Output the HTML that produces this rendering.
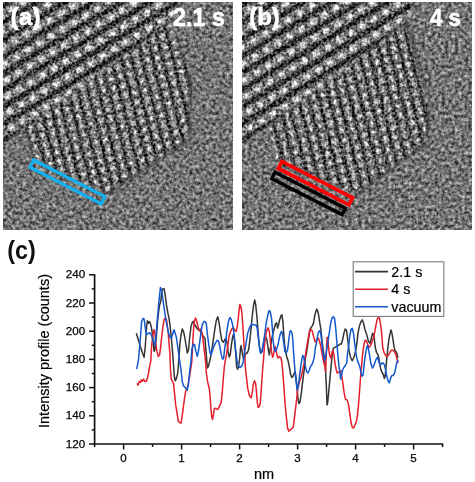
<!DOCTYPE html>
<html><head><meta charset="utf-8"><style>
html,body{margin:0;padding:0;background:#fff;width:475px;height:482px;overflow:hidden;}
.tem{position:absolute;display:block;will-change:transform}
.ov{position:absolute;left:0;top:0;will-change:transform}
text{font-family:"Liberation Sans",sans-serif}
.tl{font-size:11.6px;fill:#000;stroke:#000;stroke-width:0.25px}
.at{font-size:14.5px;fill:#000;stroke:#000;stroke-width:0.2px}
.lg{font-size:14.3px;fill:#000;stroke:#000;stroke-width:0.2px}
.pl{font-size:24px;font-weight:bold;fill:#111}
.wl{font-size:23px;font-weight:bold;fill:#fff;stroke:#fff;stroke-width:0.5px}
</style></head><body>
<svg class="tem" style="left:3px;top:2px" width="230" height="228" viewBox="0 0 230 228">
<defs>
<filter id="fa" x="0" y="0" width="230" height="228" filterUnits="userSpaceOnUse" color-interpolation-filters="sRGB">
<feTurbulence type="fractalNoise" baseFrequency="0.3" numOctaves="3" seed="7" result="t"/>
<feColorMatrix in="t" type="matrix" values="1 0 0 0 0  1 0 0 0 0  1 0 0 0 0  0 0 0 0 1" result="g"/>
<feComposite in="SourceGraphic" in2="g" operator="arithmetic" k1="0" k2="1" k3="0.98" k4="-0.49" result="c"/>
<feGaussianBlur in="c" stdDeviation="0.6"/>
</filter>
<filter id="fca" x="0" y="0" width="230" height="228" filterUnits="userSpaceOnUse" color-interpolation-filters="sRGB">
<feTurbulence type="fractalNoise" baseFrequency="0.38" numOctaves="2" seed="57" result="t"/>
<feColorMatrix in="t" type="matrix" values="1 0 0 0 0  1 0 0 0 0  1 0 0 0 0  0 0 0 0 1" result="g"/>
<feComposite in="SourceGraphic" in2="g" operator="arithmetic" k1="0" k2="1" k3="1.2" k4="-0.6" result="c"/>
<feGaussianBlur in="c" stdDeviation="0.6"/>
</filter>
<radialGradient id="rga"><stop offset="0" stop-color="#fff" stop-opacity="0.85"/><stop offset="0.45" stop-color="#fff" stop-opacity="0.47"/><stop offset="1" stop-color="#fff" stop-opacity="0"/></radialGradient>
<pattern id="dotsa" width="10.0" height="9.6" patternUnits="userSpaceOnUse" patternTransform="rotate(-14)"><rect x="0" y="0" width="2.50" height="9.6" fill="#000" opacity="0.5"/><ellipse cx="6.25" cy="4.8" rx="3.2" ry="4.4" fill="url(#rga)"/></pattern>
<pattern id="stra" width="13.5" height="29.0" patternUnits="userSpaceOnUse" patternTransform="rotate(-31) translate(0,5.6)"><rect y="9.86" width="13.5" height="4.64" fill="#000" opacity="0.6"/><rect y="24.36" width="13.5" height="4.64" fill="#000" opacity="0.6"/><ellipse cx="3.375" cy="4.93" rx="5.46" ry="4.2" fill="url(#rgsa)"/><ellipse cx="10.125" cy="19.43" rx="5.46" ry="4.2" fill="url(#rgsa)"/></pattern>
<radialGradient id="rgsa"><stop offset="0" stop-color="#fff" stop-opacity="1.0"/><stop offset="0.5" stop-color="#fff" stop-opacity="0.60"/><stop offset="1" stop-color="#fff" stop-opacity="0"/></radialGradient>
<filter id="tba" x="-10%" y="-10%" width="120%" height="120%"><feGaussianBlur stdDeviation="0.35"/></filter>
<filter id="mba" x="-20%" y="-20%" width="140%" height="140%"><feGaussianBlur stdDeviation="1.5"/></filter>
<mask id="cca" maskUnits="userSpaceOnUse" x="0" y="0" width="230" height="228"><polygon points="168,20 187,72 186.5,137 104,192 30,157 22,126" fill="#fff" filter="url(#mba)"/></mask>
<mask id="csa" maskUnits="userSpaceOnUse" x="0" y="0" width="230" height="228"><polygon points="-10,-10 178,-10 176,0 170,18.5 0,142 -10,149" fill="#fff" filter="url(#mba)"/></mask>
</defs>
<g filter="url(#fa)"><rect width="230" height="228" fill="#747474"/></g>
<g mask="url(#csa)"><g filter="url(#fca)"><rect width="230" height="228" fill="#6e6e6e"/><rect width="230" height="228" fill="url(#stra)"/></g></g>
<g mask="url(#cca)"><g filter="url(#fca)"><rect width="230" height="228" fill="#646464"/><rect width="230" height="228" fill="url(#dotsa)"/></g></g>
<polyline points="187,72 186.5,137 104,192" fill="none" stroke="#1a1a1a" stroke-width="4" stroke-opacity="0.3" stroke-linejoin="round"/>
<rect x="-40.00" y="-4.10" width="80.00" height="8.20" fill="none" stroke="#12b0ee" stroke-width="3.2" transform="translate(64.46,179.95) rotate(27.2)"/>
<text x="7.6" y="23.4" class="wl" filter="url(#tba)" style="font-size:24.6px" textLength="30.0" lengthAdjust="spacingAndGlyphs">(a)</text>
<text x="170.0" y="24.3" class="wl" filter="url(#tba)" style="font-size:25.2px" textLength="51.9" lengthAdjust="spacingAndGlyphs">2.1 s</text>
</svg>
<svg class="tem" style="left:242px;top:2px" width="230" height="228" viewBox="0 0 230 228">
<defs>
<filter id="fb" x="0" y="0" width="230" height="228" filterUnits="userSpaceOnUse" color-interpolation-filters="sRGB">
<feTurbulence type="fractalNoise" baseFrequency="0.3" numOctaves="3" seed="11" result="t"/>
<feColorMatrix in="t" type="matrix" values="1 0 0 0 0  1 0 0 0 0  1 0 0 0 0  0 0 0 0 1" result="g"/>
<feComposite in="SourceGraphic" in2="g" operator="arithmetic" k1="0" k2="1" k3="0.98" k4="-0.49" result="c"/>
<feGaussianBlur in="c" stdDeviation="0.6"/>
</filter>
<filter id="fcb" x="0" y="0" width="230" height="228" filterUnits="userSpaceOnUse" color-interpolation-filters="sRGB">
<feTurbulence type="fractalNoise" baseFrequency="0.38" numOctaves="2" seed="61" result="t"/>
<feColorMatrix in="t" type="matrix" values="1 0 0 0 0  1 0 0 0 0  1 0 0 0 0  0 0 0 0 1" result="g"/>
<feComposite in="SourceGraphic" in2="g" operator="arithmetic" k1="0" k2="1" k3="1.2" k4="-0.6" result="c"/>
<feGaussianBlur in="c" stdDeviation="0.6"/>
</filter>
<radialGradient id="rgb"><stop offset="0" stop-color="#fff" stop-opacity="0.85"/><stop offset="0.45" stop-color="#fff" stop-opacity="0.47"/><stop offset="1" stop-color="#fff" stop-opacity="0"/></radialGradient>
<pattern id="dotsb" width="10.0" height="9.6" patternUnits="userSpaceOnUse" patternTransform="rotate(-14)"><rect x="0" y="0" width="2.50" height="9.6" fill="#000" opacity="0.5"/><ellipse cx="6.25" cy="4.8" rx="3.2" ry="4.4" fill="url(#rgb)"/></pattern>
<pattern id="strb" width="13.5" height="29.0" patternUnits="userSpaceOnUse" patternTransform="rotate(-31) translate(0,5.2)"><rect y="9.86" width="13.5" height="4.64" fill="#000" opacity="0.6"/><rect y="24.36" width="13.5" height="4.64" fill="#000" opacity="0.6"/><ellipse cx="3.375" cy="4.93" rx="5.46" ry="4.2" fill="url(#rgsb)"/><ellipse cx="10.125" cy="19.43" rx="5.46" ry="4.2" fill="url(#rgsb)"/></pattern>
<radialGradient id="rgsb"><stop offset="0" stop-color="#fff" stop-opacity="1.0"/><stop offset="0.5" stop-color="#fff" stop-opacity="0.60"/><stop offset="1" stop-color="#fff" stop-opacity="0"/></radialGradient>
<filter id="tbb" x="-10%" y="-10%" width="120%" height="120%"><feGaussianBlur stdDeviation="0.35"/></filter>
<filter id="mbb" x="-20%" y="-20%" width="140%" height="140%"><feGaussianBlur stdDeviation="1.5"/></filter>
<mask id="ccb" maskUnits="userSpaceOnUse" x="0" y="0" width="230" height="228"><polygon points="163,22 187,100 185,140 116,192 34,162 26,125" fill="#fff" filter="url(#mbb)"/></mask>
<mask id="csb" maskUnits="userSpaceOnUse" x="0" y="0" width="230" height="228"><polygon points="-10,-10 174,-10 172,0 166,20 0,143 -10,150" fill="#fff" filter="url(#mbb)"/></mask>
</defs>
<g filter="url(#fb)"><rect width="230" height="228" fill="#747474"/></g>
<g mask="url(#csb)"><g filter="url(#fcb)"><rect width="230" height="228" fill="#6e6e6e"/><rect width="230" height="228" fill="url(#strb)"/></g></g>
<g mask="url(#ccb)"><g filter="url(#fcb)"><rect width="230" height="228" fill="#646464"/><rect width="230" height="228" fill="url(#dotsb)"/></g></g>
<polyline points="165,20 187,100 185,140 116,192" fill="none" stroke="#1a1a1a" stroke-width="4" stroke-opacity="0.3" stroke-linejoin="round"/>
<rect x="-39.80" y="-3.95" width="79.60" height="7.90" fill="none" stroke="#ff0000" stroke-width="3.6" transform="translate(73.40,181.10) rotate(27.3)"/><rect x="-39.50" y="-3.60" width="79.00" height="7.20" fill="none" stroke="#000" stroke-width="3.4" transform="translate(66.60,191.45) rotate(27.0)"/>
<text x="7.2" y="22.9" class="wl" filter="url(#tbb)" style="font-size:24.6px" textLength="30.6" lengthAdjust="spacingAndGlyphs">(b)</text>
<text x="188.0" y="24.2" class="wl" filter="url(#tbb)" style="font-size:23.4px" textLength="30.8" lengthAdjust="spacingAndGlyphs">4 s</text>
</svg>
<svg class="ov" width="475" height="482" viewBox="0 0 475 482">
<line x1="94.6" y1="444.0" x2="443.2" y2="444.0" stroke="#111" stroke-width="1.7"/>
<line x1="94.6" y1="274.2" x2="94.6" y2="444.0" stroke="#111" stroke-width="1.7"/>
<line x1="123.6" y1="444.0" x2="123.6" y2="449.5" stroke="#111" stroke-width="1.5"/>
<text x="123.6" y="462.3" class="tl" text-anchor="middle">0</text>
<line x1="181.6" y1="444.0" x2="181.6" y2="449.5" stroke="#111" stroke-width="1.5"/>
<text x="181.6" y="462.3" class="tl" text-anchor="middle">1</text>
<line x1="239.6" y1="444.0" x2="239.6" y2="449.5" stroke="#111" stroke-width="1.5"/>
<text x="239.6" y="462.3" class="tl" text-anchor="middle">2</text>
<line x1="297.6" y1="444.0" x2="297.6" y2="449.5" stroke="#111" stroke-width="1.5"/>
<text x="297.6" y="462.3" class="tl" text-anchor="middle">3</text>
<line x1="355.6" y1="444.0" x2="355.6" y2="449.5" stroke="#111" stroke-width="1.5"/>
<text x="355.6" y="462.3" class="tl" text-anchor="middle">4</text>
<line x1="413.6" y1="444.0" x2="413.6" y2="449.5" stroke="#111" stroke-width="1.5"/>
<text x="413.6" y="462.3" class="tl" text-anchor="middle">5</text>
<line x1="94.6" y1="444.0" x2="94.6" y2="447.0" stroke="#111" stroke-width="1.5"/>
<line x1="152.6" y1="444.0" x2="152.6" y2="447.0" stroke="#111" stroke-width="1.5"/>
<line x1="210.6" y1="444.0" x2="210.6" y2="447.0" stroke="#111" stroke-width="1.5"/>
<line x1="268.6" y1="444.0" x2="268.6" y2="447.0" stroke="#111" stroke-width="1.5"/>
<line x1="326.6" y1="444.0" x2="326.6" y2="447.0" stroke="#111" stroke-width="1.5"/>
<line x1="384.6" y1="444.0" x2="384.6" y2="447.0" stroke="#111" stroke-width="1.5"/>
<line x1="442.6" y1="444.0" x2="442.6" y2="447.0" stroke="#111" stroke-width="1.5"/>
<line x1="89.0" y1="444.0" x2="94.6" y2="444.0" stroke="#111" stroke-width="1.5"/>
<text x="85.2" y="447.6" class="tl" text-anchor="end">120</text>
<line x1="89.0" y1="415.8" x2="94.6" y2="415.8" stroke="#111" stroke-width="1.5"/>
<text x="85.2" y="419.4" class="tl" text-anchor="end">140</text>
<line x1="89.0" y1="387.6" x2="94.6" y2="387.6" stroke="#111" stroke-width="1.5"/>
<text x="85.2" y="391.2" class="tl" text-anchor="end">160</text>
<line x1="89.0" y1="359.4" x2="94.6" y2="359.4" stroke="#111" stroke-width="1.5"/>
<text x="85.2" y="363.0" class="tl" text-anchor="end">180</text>
<line x1="89.0" y1="331.2" x2="94.6" y2="331.2" stroke="#111" stroke-width="1.5"/>
<text x="85.2" y="334.8" class="tl" text-anchor="end">200</text>
<line x1="89.0" y1="303.0" x2="94.6" y2="303.0" stroke="#111" stroke-width="1.5"/>
<text x="85.2" y="306.6" class="tl" text-anchor="end">220</text>
<line x1="89.0" y1="274.8" x2="94.6" y2="274.8" stroke="#111" stroke-width="1.5"/>
<text x="85.2" y="278.4" class="tl" text-anchor="end">240</text>
<line x1="91.8" y1="429.9" x2="94.6" y2="429.9" stroke="#111" stroke-width="1.5"/>
<line x1="91.8" y1="401.7" x2="94.6" y2="401.7" stroke="#111" stroke-width="1.5"/>
<line x1="91.8" y1="373.5" x2="94.6" y2="373.5" stroke="#111" stroke-width="1.5"/>
<line x1="91.8" y1="345.3" x2="94.6" y2="345.3" stroke="#111" stroke-width="1.5"/>
<line x1="91.8" y1="317.1" x2="94.6" y2="317.1" stroke="#111" stroke-width="1.5"/>
<line x1="91.8" y1="288.9" x2="94.6" y2="288.9" stroke="#111" stroke-width="1.5"/>
<text x="264" y="479" class="at" text-anchor="middle">nm</text>
<text transform="translate(48.9,351) rotate(-90)" class="at" text-anchor="middle">Intensity profile (counts)</text>
<polyline points="136.3,333.2 138.3,339.8 140.3,346.4 142.5,353.1 144.1,357.2 145.3,346.4 146.6,326.5 147.4,320.7 148.3,323.2 149.6,321.5 150.8,324.9 151.9,329.8 153.3,343.1 154.1,351.4 154.9,349.8 156.2,338.1 157.4,323.2 158.6,311.6 159.6,304.9 160.7,301.6 161.6,293.3 162.4,289.1 164.1,288.6 165.2,295.0 166.5,304.9 167.9,313.2 169.0,318.2 170.2,326.5 171.5,339.8 172.5,351.4 173.5,365.0 174.3,376.0 175.2,380.8 176.2,379.0 177.7,373.3 178.8,360.0 179.8,345.0 181.0,334.8 182.3,329.0 183.5,331.5 184.6,336.5 186.0,344.8 187.3,353.1 188.5,349.8 189.6,338.1 191.0,326.5 192.3,322.4 193.4,321.2 194.3,324.0 196.8,328.2 198.4,329.8 200.1,330.7 201.7,333.2 203.4,336.5 205.0,338.3 205.7,347.7 206.6,358.5 207.4,367.9 208.4,366.5 209.7,361.1 211.1,354.4 212.4,346.3 213.7,336.9 215.1,327.5 216.4,320.1 217.8,316.7 219.1,322.8 220.5,332.9 221.8,340.3 223.2,342.3 224.5,340.3 225.9,338.3 227.2,343.6 228.1,351.7 229.2,357.1 230.3,354.4 231.2,346.3 232.6,336.9 233.5,334.2 234.6,341.0 235.7,353.1 236.6,366.5 237.6,369.2 238.6,366.5 239.7,358.0 240.5,348.0 241.1,345.6 242.3,353.1 243.6,359.7 244.9,355.6 246.1,353.1 247.2,353.1 248.6,349.8 249.9,339.8 251.1,328.2 252.2,316.5 253.6,304.9 254.7,299.9 255.7,304.9 256.9,316.5 258.2,333.2 259.4,346.4 260.5,353.1 261.9,351.4 263.2,344.8 264.4,338.1 265.5,336.5 266.9,339.8 268.2,349.0 269.3,355.0 270.5,347.0 271.7,339.0 273.0,333.2 274.3,328.2 275.5,324.0 276.6,322.9 277.6,328.2 278.6,324.5 279.6,319.9 281.0,315.7 282.0,314.9 283.0,323.2 283.8,334.8 284.6,344.8 285.9,353.1 287.1,358.1 287.9,360.0 289.3,366.6 290.4,373.3 291.6,377.4 292.9,376.6 294.2,373.3 295.1,371.6 295.9,376.6 297.1,388.2 297.9,398.2 298.9,403.5 299.9,402.4 300.9,396.0 301.7,389.8 302.9,379.9 304.2,369.9 305.3,358.6 306.4,353.4 307.4,347.2 308.4,339.9 309.5,332.6 310.5,328.5 311.6,326.9 312.6,325.4 313.4,323.3 314.2,319.1 314.9,315.0 315.8,311.6 316.9,309.1 318.3,313.3 319.6,321.6 320.8,329.0 321.9,339.8 323.2,349.8 324.6,359.7 325.7,373.3 326.5,389.9 327.0,404.9 327.6,403.2 328.6,393.2 329.8,379.9 330.9,368.3 331.9,358.0 332.4,351.4 333.5,348.1 334.9,347.3 336.5,346.4 338.2,345.6 340.0,344.0 341.4,344.0 342.6,339.8 343.9,333.2 345.2,329.0 346.4,329.8 347.2,334.8 348.1,343.1 349.2,351.4 350.5,357.2 352.2,360.8 354.0,357.0 355.5,351.4 356.9,343.1 358.0,333.2 359.3,326.6 361.0,321.6 362.3,319.9 363.5,323.3 365.1,329.9 366.8,334.9 368.5,341.5 370.1,343.2 371.3,338.2 372.6,333.2 373.9,335.7 375.3,347.5 376.5,352.4 378.1,354.9 379.0,358.7 379.9,364.9 380.9,369.9 382.1,372.3 383.4,374.8 384.4,378.6 385.2,376.1 385.9,368.6 386.7,359.0 387.8,348.7 388.8,340.4 389.9,334.1 390.9,330.0 391.9,333.1 393.0,339.3 394.0,346.6 395.0,350.7 396.1,351.8 397.1,353.9 397.8,358.0" fill="none" stroke="#333333" stroke-width="1.5" stroke-linejoin="round"/>
<polyline points="137.0,383.3 138.0,385.2 139.1,381.6 140.3,382.4 141.3,379.9 142.5,381.3 143.6,379.1 144.6,381.3 145.8,381.6 146.6,380.8 147.4,378.3 148.6,372.5 149.6,366.6 150.8,360.8 151.6,346.4 152.9,334.8 154.1,329.8 154.9,333.2 155.7,343.1 156.9,351.4 158.2,356.4 159.6,354.8 160.7,346.4 161.9,334.8 162.9,326.5 164.1,319.9 165.2,317.9 166.5,319.9 167.9,329.8 169.0,343.1 169.9,353.1 170.4,368.3 171.2,379.1 173.5,383.3 174.5,393.2 175.7,404.9 177.3,414.8 178.5,421.5 180.2,422.8 181.0,423.1 181.8,418.1 183.0,409.8 184.3,399.9 185.6,391.6 186.8,389.1 188.0,384.9 189.3,378.3 190.6,370.0 191.8,361.7 192.6,346.4 193.4,331.5 194.3,321.5 195.6,317.9 196.8,321.5 197.9,326.5 199.3,330.7 200.6,329.0 201.7,331.5 202.9,338.1 204.2,349.8 205.0,355.8 205.7,363.8 206.4,373.3 207.6,381.6 209.2,388.2 210.1,396.5 210.9,408.2 211.7,416.5 212.5,419.5 213.4,414.8 214.2,409.0 215.5,408.2 216.7,409.0 217.9,409.5 218.9,407.3 220.0,404.9 221.2,402.4 222.2,393.2 223.3,378.3 224.3,367.0 225.2,361.1 226.5,354.4 227.9,345.0 229.2,335.6 230.6,331.5 231.9,328.8 233.3,327.5 234.6,330.2 236.2,331.5 237.3,326.1 238.6,315.4 239.3,308.2 239.9,304.6 240.9,306.6 241.9,313.2 242.9,326.5 243.9,343.1 244.9,358.1 245.3,366.6 246.6,378.3 247.7,388.2 249.4,395.7 251.1,397.9 252.2,393.2 253.2,384.9 254.4,380.8 255.6,383.3 256.6,393.2 257.4,403.2 258.2,407.3 259.4,406.5 260.2,403.2 261.0,393.2 261.9,379.9 262.7,368.3 263.5,360.0 264.4,346.4 265.5,336.5 266.9,329.8 268.1,327.8 269.3,331.5 270.5,343.1 271.7,353.1 272.7,357.2 273.8,353.1 275.0,346.4 276.0,349.8 277.1,355.6 278.3,358.1 279.6,356.4 281.0,358.1 281.8,362.0 282.6,370.0 283.8,384.9 284.9,401.5 286.3,416.5 287.6,428.1 288.8,431.1 290.4,429.8 292.1,428.4 293.2,427.3 294.2,419.8 295.4,409.8 296.6,399.9 297.6,389.9 298.7,384.9 299.9,380.5 301.2,377.0 302.9,368.6 303.8,365.0 304.8,358.6 305.9,352.3 306.9,346.1 307.9,339.9 309.0,333.7 310.0,329.5 311.0,329.5 312.1,330.6 313.1,334.7 314.2,338.9 315.2,342.0 316.2,340.9 317.3,338.9 318.3,338.1 319.6,341.5 320.8,346.4 321.9,353.1 322.9,358.0 323.9,363.0 324.9,366.3 325.7,371.3 326.6,346.4 327.1,337.3 327.9,338.1 328.5,346.4 329.5,354.7 330.7,358.0 331.9,353.1 332.9,350.6 334.0,354.7 334.9,363.0 336.2,369.7 337.3,373.0 339.0,372.0 340.9,370.8 341.9,376.6 343.1,384.9 344.2,393.2 345.6,399.5 347.2,399.9 348.6,404.9 349.7,413.2 350.9,421.5 352.2,427.3 353.5,428.1 354.7,425.6 356.4,421.5 357.5,414.8 358.5,404.9 359.5,391.6 360.5,378.3 361.5,366.6 362.5,354.9 363.5,347.5 364.5,342.5 365.2,340.2 366.3,340.7 367.6,344.0 369.0,347.3 370.1,346.5 371.3,344.0 372.6,339.9 373.9,336.5 375.1,329.9 376.3,323.3 377.3,319.1 378.4,317.4 379.6,318.3 380.6,324.9 381.7,333.2 382.7,347.5 384.0,352.4 385.6,355.5 387.1,356.8 388.6,354.9 390.2,351.8 391.8,349.9 393.3,350.6 394.8,352.4 396.0,354.9 397.0,358.7 398.0,363.0" fill="none" stroke="#e41e2b" stroke-width="1.5" stroke-linejoin="round"/>
<polyline points="136.6,369.1 138.3,361.7 140.0,343.1 141.6,321.5 143.0,318.5 144.1,319.0 145.3,328.2 146.6,334.8 148.3,333.2 149.9,332.8 151.6,335.6 153.3,341.5 154.9,345.6 156.2,333.2 157.4,318.2 158.6,304.9 159.6,295.0 160.4,287.5 161.6,290.0 163.2,301.6 164.9,313.2 166.5,323.2 168.2,331.5 169.9,337.3 171.5,338.1 172.9,333.2 174.0,329.8 175.2,333.2 176.5,338.0 177.7,346.4 179.3,358.1 181.0,370.0 182.3,381.6 183.5,385.7 185.1,387.4 186.3,389.1 187.3,390.2 188.5,383.3 189.6,371.6 191.0,361.7 191.8,349.8 193.4,344.0 194.6,344.8 195.9,351.4 197.3,356.4 198.4,351.4 199.6,343.1 200.9,333.2 202.2,324.9 203.9,321.5 205.0,321.4 206.3,323.5 207.4,334.2 208.8,345.0 210.1,353.1 211.1,354.4 212.0,351.7 213.3,347.7 215.1,343.6 217.1,340.3 218.5,341.0 219.8,346.3 221.2,354.4 222.5,359.1 223.6,358.5 224.5,350.4 225.9,339.6 227.2,328.8 228.6,320.8 229.9,317.4 231.2,319.4 232.6,324.8 233.9,332.9 234.9,342.3 236.0,353.1 237.3,362.5 238.6,366.5 240.3,367.5 241.9,365.8 243.3,361.7 244.4,353.1 246.1,343.1 247.7,333.2 249.4,328.2 251.1,324.9 252.7,324.5 254.4,324.9 256.1,324.9 257.2,328.2 258.5,339.8 259.9,349.8 261.0,353.1 262.2,351.4 263.5,343.1 264.9,333.2 266.2,323.2 267.7,315.7 269.0,310.7 270.2,311.6 271.5,318.2 272.3,328.0 273.0,339.8 274.3,349.8 275.5,351.4 276.6,348.9 278.0,344.8 279.3,338.1 280.5,333.2 281.6,331.5 282.6,334.8 283.8,343.1 284.9,351.4 286.3,353.1 287.6,349.8 288.8,339.8 289.9,331.5 290.9,330.7 292.1,333.2 292.9,341.5 293.6,352.5 294.5,364.9 295.5,376.1 296.5,384.8 297.3,389.8 298.2,386.1 299.2,378.6 300.5,368.6 301.7,359.9 302.7,355.6 303.6,356.2 304.4,361.2 305.4,366.2 306.7,371.8 307.9,373.0 309.2,370.5 310.4,366.8 311.7,364.9 312.9,362.4 314.2,357.4 315.4,347.5 316.6,342.5 317.8,334.7 318.8,331.6 319.6,330.7 320.8,333.2 321.9,343.1 323.2,354.7 324.6,360.5 325.7,356.4 326.9,348.1 328.2,339.8 329.5,331.5 330.7,323.2 331.9,318.2 333.2,316.6 334.5,318.2 335.7,328.2 336.8,341.5 337.8,354.7 339.0,366.3 340.0,373.0 340.6,379.1 341.4,375.0 342.6,370.0 343.9,367.5 345.6,365.0 346.9,362.5 347.2,356.4 348.6,346.4 349.7,336.5 350.9,329.8 352.2,328.2 353.5,333.2 354.7,343.1 355.9,353.1 357.2,359.9 358.7,363.6 360.0,367.4 361.2,373.6 362.2,376.1 363.2,374.8 364.1,364.9 365.3,354.9 366.6,348.1 367.4,345.6 368.4,348.7 369.7,356.2 370.9,363.6 372.4,368.0 373.7,366.1 374.9,362.4 376.1,359.3 377.4,357.4 378.4,359.9 379.4,363.6 380.6,364.9 381.9,363.0 383.1,363.0 384.4,364.9 385.6,369.9 386.8,376.1 388.1,381.0 389.3,382.9 390.2,379.8 391.1,376.7 392.1,375.4 393.3,375.4 394.6,373.0 395.6,368.6 396.4,364.3 397.3,361.1 398.0,359.9" fill="none" stroke="#1158cf" stroke-width="1.5" stroke-linejoin="round"/>
<rect x="353.2" y="261.8" width="90.6" height="54.6" fill="#fff" stroke="#7a7a7a" stroke-width="1.1"/>
<line x1="355" y1="271.6" x2="388" y2="271.6" stroke="#333333" stroke-width="1.6"/>
<text x="391.3" y="276.8" class="lg">2.1 s</text>
<line x1="355" y1="289.2" x2="388" y2="289.2" stroke="#e41e2b" stroke-width="1.6"/>
<text x="391.3" y="294.4" class="lg">4 s</text>
<line x1="355" y1="306.8" x2="388" y2="306.8" stroke="#1158cf" stroke-width="1.6"/>
<text x="391.3" y="312.0" class="lg">vacuum</text>
<text x="7.3" y="259.2" class="pl" style="font-size:25.5px" textLength="28.6" lengthAdjust="spacingAndGlyphs">(c)</text>
</svg>
</body></html>
